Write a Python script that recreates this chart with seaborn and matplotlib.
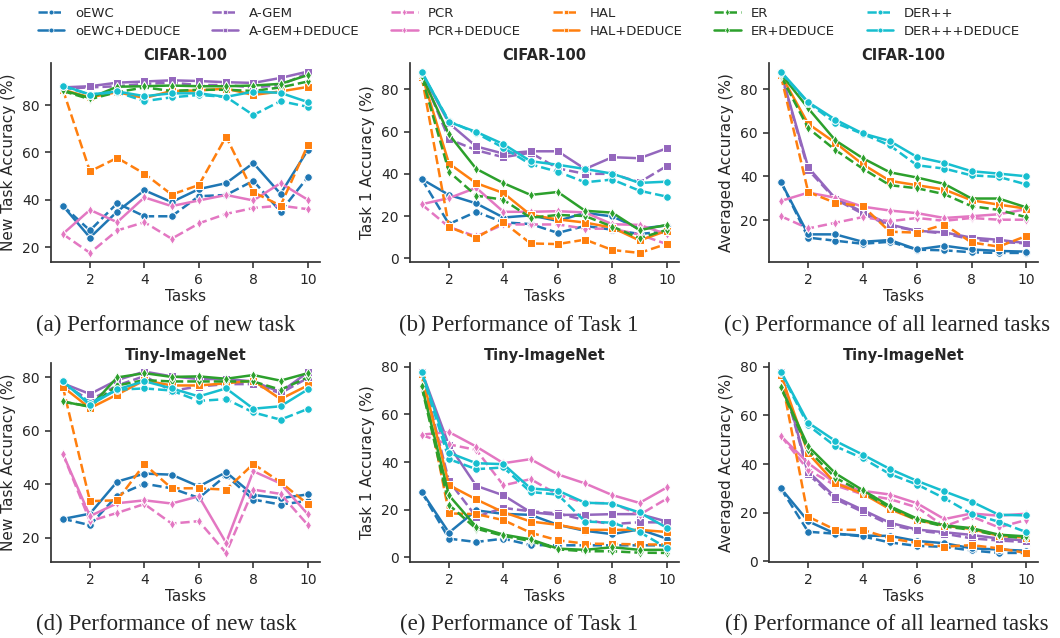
import numpy as np
import pandas as pd
import matplotlib
matplotlib.use("Agg")
import matplotlib.pyplot as plt
from matplotlib.lines import Line2D
import seaborn as sns

tasks = list(range(1, 11))
methods = ["oEWC", "oEWC+DEDUCE", "A-GEM", "A-GEM+DEDUCE", "PCR", "PCR+DEDUCE",
           "HAL", "HAL+DEDUCE", "ER", "ER+DEDUCE", "DER++", "DER+++DEDUCE"]

# (a) CIFAR-100, new task accuracy
cifar_new = {
    "oEWC": [37.5, 27, 38.5, 33, 33, 41.5, 42, 48, 35, 49.5],
    "oEWC+DEDUCE": [37.5, 24, 35, 44, 39, 44.5, 47, 55.5, 42.5, 61],
    "A-GEM": [87, 87.5, 88, 89, 89.5, 88.5, 88.5, 87.5, 88.5, 93.5],
    "A-GEM+DEDUCE": [87.5, 88, 89.5, 90, 90.5, 90.2, 89.7, 89.4, 91.5, 94.2],
    "PCR": [25.5, 17.5, 27, 30.5, 23.5, 30, 34, 36.5, 37.5, 36],
    "PCR+DEDUCE": [25.5, 35.7, 30.5, 41, 37.3, 39.7, 42, 39.7, 47, 40],
    "HAL": [86.7, 52, 57.7, 51, 42.2, 46.2, 66.7, 43.2, 37.5, 63],
    "HAL+DEDUCE": [86.5, 83.3, 85.5, 83, 86, 86.2, 87, 84.3, 85.8, 87.7],
    "ER": [86, 82.5, 85.5, 87.5, 86, 86.5, 86.5, 86, 87.5, 90],
    "ER+DEDUCE": [86.3, 83, 87.8, 88, 88.3, 88, 88, 88.3, 89, 92.7],
    "DER++": [88, 84.5, 85.5, 81.7, 83.3, 84.3, 83.5, 75.8, 81.7, 79.3],
    "DER+++DEDUCE": [88.3, 84.5, 85.8, 83.8, 85, 85, 83.5, 85.7, 85.2, 81.3],
}
# (b) CIFAR-100, task 1 accuracy
cifar_t1 = {
    "oEWC": [37.5, 16.2, 22, 17, 16.2, 12, 15.3, 13.5, 11.5, 12.7],
    "oEWC+DEDUCE": [37.5, 30, 26, 19.3, 20.3, 17.7, 21.5, 19.8, 14, 15.5],
    "A-GEM": [87.5, 56.5, 51.2, 47.9, 50, 42.6, 40, 40, 36, 43.7],
    "A-GEM+DEDUCE": [88, 64, 53, 49.6, 50.7, 50.7, 42.3, 47.9, 47.4, 52.1],
    "PCR": [25.5, 14.8, 10.3, 16, 16, 16, 14, 14, 11.2, 6.7],
    "PCR+DEDUCE": [25.6, 28.5, 33.4, 22, 22, 22.3, 21.7, 16.1, 15.8, 11.4],
    "HAL": [86, 14.8, 9.7, 17, 7, 6.7, 8.8, 3.9, 2.5, 6.8],
    "HAL+DEDUCE": [87, 44.9, 35.6, 30.9, 20.5, 18.4, 16.9, 14.5, 8.4, 13],
    "ER": [86, 41, 29.7, 27.7, 19.2, 20.5, 20, 15, 9.5, 13.4],
    "ER+DEDUCE": [86.5, 58.7, 42.4, 35.6, 30, 31.4, 22.5, 21.6, 13.3, 15.8],
    "DER++": [88, 65, 59.3, 52.4, 44.5, 41, 36, 37.3, 32, 29.2],
    "DER+++DEDUCE": [88.5, 64.6, 59.9, 54.1, 46, 44.3, 42.3, 40.1, 35.7, 36.3],
}
# (c) CIFAR-100, averaged accuracy
cifar_avg = {
    "oEWC": [37.5, 12, 10.6, 9.2, 10.1, 6.5, 6.2, 5.3, 5, 5],
    "oEWC+DEDUCE": [37.5, 13.5, 13.5, 10.1, 10.9, 6.6, 8.3, 6.6, 5.9, 5.6],
    "A-GEM": [87, 43.1, 29.5, 23, 17.4, 15.1, 13.9, 11.2, 10, 9.4],
    "A-GEM+DEDUCE": [87.5, 44.2, 29.9, 23.8, 18, 15.1, 14.4, 12, 11, 9.5],
    "PCR": [21.8, 16.2, 18.8, 21.4, 19.5, 21, 19.7, 21, 20.2, 20.2],
    "PCR+DEDUCE": [28.8, 32.6, 30.3, 26.2, 24.4, 23.2, 21, 21.8, 22.7, 25],
    "HAL": [86, 32.9, 27.9, 26.5, 14.7, 14.3, 18, 9.8, 7.9, 12.7],
    "HAL+DEDUCE": [86.5, 64.1, 55.4, 45.6, 38, 36, 34, 29.1, 27.1, 25.3],
    "ER": [86, 62.1, 52.1, 43.6, 36, 34.6, 31.9, 26.4, 24.7, 21.4],
    "ER+DEDUCE": [87, 71.2, 56.5, 48.4, 41.9, 39.5, 36.6, 29.9, 29.9, 25.9],
    "DER++": [87.5, 73.7, 64.5, 59.5, 54.2, 45.1, 43.6, 40.5, 39.8, 36.4],
    "DER+++DEDUCE": [88, 74, 66, 59.7, 56.2, 48.9, 46.2, 42.4, 41.3, 40.1],
}
# (d) Tiny-ImageNet, new task accuracy
tiny_new = {
    "oEWC": [27.1, 24.7, 35.8, 40.2, 38.5, 34.9, 43.3, 34.3, 32.4, 33.8],
    "oEWC+DEDUCE": [27, 29, 41, 44, 43.6, 39.2, 44.5, 36, 34.8, 36.2],
    "A-GEM": [77.5, 71.5, 77, 80.5, 75, 76.6, 77.5, 77.5, 74.1, 79.8],
    "A-GEM+DEDUCE": [77.8, 73.8, 79, 82.2, 80.4, 79.4, 79.4, 78.5, 74.5, 81.9],
    "PCR": [51.5, 26.2, 29.3, 32.6, 25.3, 26.2, 14.3, 38, 36.4, 24.8],
    "PCR+DEDUCE": [51.5, 28.1, 32.9, 34, 32.8, 35.5, 18.1, 44.9, 40.3, 28.8],
    "HAL": [76.6, 33.7, 34, 47.5, 38.5, 38.5, 38, 47.6, 40.8, 32.6],
    "HAL+DEDUCE": [76.5, 68.5, 73.6, 78.9, 77, 77, 77.8, 78.8, 71.9, 77],
    "ER": [70.9, 69.2, 77, 79, 78.5, 78.5, 78.5, 78.5, 75.4, 80],
    "ER+DEDUCE": [71, 69, 80, 81.6, 80.2, 80.4, 79.5, 80.9, 78.8, 81.6],
    "DER++": [78.5, 70.4, 75.4, 75.9, 75.1, 71.2, 71.9, 66.9, 64.2, 68.2],
    "DER+++DEDUCE": [78.6, 69.7, 75.5, 78.6, 75.9, 72.9, 75.9, 68.3, 69.2, 75.5],
}
# (e) Tiny-ImageNet, task 1 accuracy
tiny_t1 = {
    "oEWC": [27.3, 7.8, 6.4, 7.8, 5.1, 5, 5, 5, 5, 5],
    "oEWC+DEDUCE": [27.5, 10.3, 19.7, 18.2, 17.8, 13.6, 11.1, 9.7, 11.7, 7.8],
    "A-GEM": [77.5, 32, 17, 20.7, 19.3, 18.4, 15.6, 13.9, 14.7, 14.6],
    "A-GEM+DEDUCE": [78, 47, 30, 26, 18.9, 17.8, 17.8, 18.1, 18.1, 15],
    "PCR": [51.3, 47.4, 45.1, 30.2, 32.8, 26.3, 22.8, 22.7, 17.8, 24.6],
    "PCR+DEDUCE": [51.5, 52.6, 46.5, 39.5, 41.2, 34.8, 31, 26.1, 22.8, 29.3],
    "HAL": [76.5, 18.4, 18.1, 15.6, 10.3, 7.1, 5.7, 5.6, 5.4, 5.3],
    "HAL+DEDUCE": [77, 30.3, 24.3, 18.9, 15, 13.6, 11.5, 11.5, 11.5, 10.6],
    "ER": [71.5, 22, 12, 9, 6.8, 3.3, 2.5, 2.5, 1.9, 1.8],
    "ER+DEDUCE": [72, 26, 12.8, 9.5, 7.5, 3.6, 3.1, 4.2, 3.1, 3.1],
    "DER++": [77.5, 41.2, 37, 37.7, 27.4, 26.3, 15, 14.5, 10.6, 3.9],
    "DER+++DEDUCE": [78, 43.9, 39.5, 39.1, 28.9, 28, 22.9, 22.5, 18.8, 12.4],
}
# (f) Tiny-ImageNet, averaged accuracy
tiny_avg = {
    "oEWC": [29.9, 12.2, 11.4, 10.3, 7.8, 6.4, 6, 4.5, 3.5, 3.5],
    "oEWC+DEDUCE": [30, 16.5, 11.4, 10.6, 10.5, 8.4, 7.5, 5.4, 4.9, 4.4],
    "A-GEM": [77.5, 35.9, 25.6, 20.4, 15.1, 12.7, 11.4, 9.5, 8.6, 8],
    "A-GEM+DEDUCE": [78, 36.9, 26.4, 21.2, 15.9, 13.1, 12, 10.9, 9.4, 8.6],
    "PCR": [51.5, 37.6, 31.2, 27.6, 25.6, 22.2, 14.4, 18.5, 14, 17],
    "PCR+DEDUCE": [51.5, 40.4, 32.1, 29, 27.5, 23.9, 17.4, 19.7, 18.8, 19.6],
    "HAL": [76.5, 18.4, 13, 13, 9.5, 7.6, 6.1, 6.7, 5.4, 3.5],
    "HAL+DEDUCE": [76.5, 44.4, 32.1, 27.9, 21.5, 17, 14.7, 13.3, 10.6, 9.8],
    "ER": [71.5, 45.7, 34.4, 28.4, 22.2, 17, 14.4, 13, 10.6, 9.5],
    "ER+DEDUCE": [71.5, 47.3, 36.2, 29.3, 22.7, 17.6, 14.8, 13.7, 11, 10.3],
    "DER++": [77.5, 55.9, 47.3, 42.4, 35.9, 31.6, 26, 19.6, 16.3, 12.1],
    "DER+++DEDUCE": [78, 57, 49.5, 43.9, 38, 33.1, 28.8, 24.6, 19.2, 18.9],
}

titles = ["CIFAR-100", "CIFAR-100", "CIFAR-100", "Tiny-ImageNet", "Tiny-ImageNet", "Tiny-ImageNet"]
ylabels = ["New Task Accuracy (%)", "Task 1 Accuracy (%)", "Averaged Accuracy (%)"] * 2
captions = ["(a) Performance of new task", "(b) Performance of Task 1",
            "(c) Performance of all learned tasks", "(d) Performance of new task",
            "(e) Performance of Task 1", "(f) Performance of all learned tasks"]
panels = [cifar_new, cifar_t1, cifar_avg, tiny_new, tiny_t1, tiny_avg]

base_colors = ["#1f77b4", "#9467bd", "#e377c2", "#ff7f0e", "#2ca02c", "#17becf"]
base_markers = ["o", "s", "d", "s", "d", "o"]
palette, markers, dashes = {}, {}, {}
for i, m in enumerate(methods):
    palette[m] = base_colors[i // 2]
    markers[m] = base_markers[i // 2]
    dashes[m] = (3.7, 1.6) if i % 2 == 0 else ""

sns.set_theme(style="ticks")
plt.rcParams["font.family"] = ["DejaVu Sans"]
plt.rcParams["axes.linewidth"] = 1.25
plt.rcParams["axes.edgecolor"] = "#333333"

fig = plt.figure(figsize=(10.6, 6.38), dpi=100)
lefts = [50.5, 409.5, 768.7]
W, H = 1060.0, 638.0
aw = 269.5 / W
ah = 199.5 / H
bottoms = [1 - 262 / H, 1 - 562 / H]
cap_x = [166, 519, 887]
cap_y = [325, 624]

for k, data in enumerate(panels):
    r, c = divmod(k, 3)
    ax = fig.add_axes([lefts[c] / W, bottoms[r], aw, ah])
    rows = []
    for m in methods:
        for t, v in zip(tasks, data[m]):
            rows.append((m, t, v))
    df = pd.DataFrame(rows, columns=["Method", "Tasks", "Acc"])
    sns.lineplot(data=df, x="Tasks", y="Acc", hue="Method", style="Method",
                 hue_order=methods, style_order=methods, palette=palette,
                 markers=markers, dashes=dashes, linewidth=1.8, markersize=5.5,
                 legend=False, ax=ax)
    ax.set_xticks([2, 4, 6, 8, 10])
    ax.tick_params(labelsize=10, length=4.5, width=1.1)
    ax.set_xlabel("Tasks", fontsize=11, labelpad=1.5)
    ax.set_ylabel(ylabels[k], fontsize=11)
    ax.set_title(titles[k], fontsize=10.5, fontweight="bold", pad=2)
    sns.despine(ax=ax)
    fig.text(cap_x[c] / W, 1 - cap_y[r] / H, captions[k], ha="center", va="center",
             fontsize=16.5, family=["Liberation Serif", "DejaVu Serif"])

handles = []
for m in methods:
    handles.append(Line2D([], [], color=palette[m], lw=1.8,
                          linestyle=(0, (3.7, 1.6)) if dashes[m] else "-",
                          marker=markers[m], markersize=3.5, markeredgecolor="w",
                          markeredgewidth=0.5))
fig.legend(handles, methods, loc="upper center", bbox_to_anchor=(0.499, 1.008), ncol=6,
           frameon=False, fontsize=9.5, handlelength=2.0, handletextpad=0.8,
           columnspacing=2.4, labelspacing=0.4)

fig.savefig("out.png", dpi=100)
